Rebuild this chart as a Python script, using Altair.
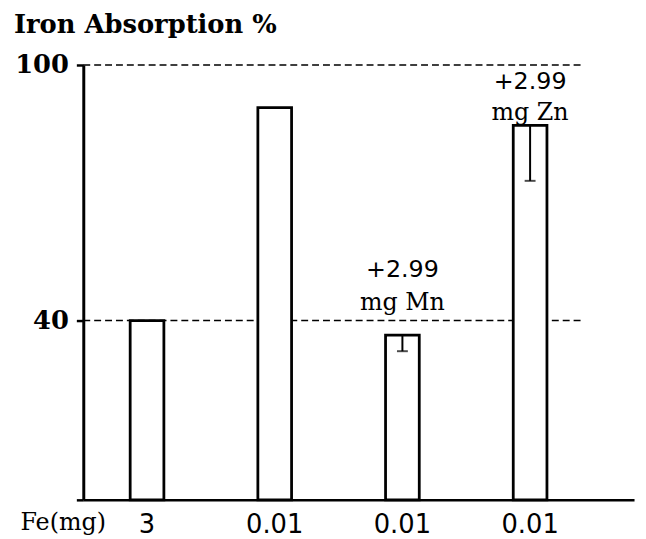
import altair as alt
import pandas as pd

# ---- data ----
fe_labels = ["3", "0.01", "0.01", "0.01"]
absorption = [40, 90, 36.6, 85.8]
err_low = [None, None, 32.8, 72.8]
ann_bar = [2, 3]
ann_top = ["+2.99", "+2.99"]
ann_bottom = ["mg Mn", "mg Zn"]
ref_lines = [100, 40]
y_ticks = [40, 100]

BASE = -2.1  # value at the drawn baseline

# ---- styling constants ----
SERIF = "DejaVu Serif"
SANS = "DejaVu Sans"
ann_dy = {"mg Mn": (-59, -25), "mg Zn": (-37, -6)}

df = pd.DataFrame({"pos": list(range(len(fe_labels))), "absorption": absorption, "low": err_low})
label_expr = "[" + ",".join("'%s'" % l for l in fe_labels) + "][datum.value]"

xscale = alt.Scale(paddingInner=0.736, paddingOuter=0.5246, align=0.35)
yscale = alt.Scale(domain=[BASE, 100], nice=False, zero=False)

x_enc = alt.X(
    "pos:O",
    scale=xscale,
    axis=alt.Axis(
        labelExpr=label_expr, labelAngle=0, ticks=False,
        domainWidth=2.5, domainColor="black",
        labelFont=SANS, labelFontSize=26, labelColor="black", labelPadding=12,
        title="Fe(mg)", titleFont=SERIF, titleFontSize=24, titleFontWeight="normal",
        titleColor="black", titleX=-64, titleY=30, titleAlign="left",
        titleBaseline="alphabetic", titleAngle=0,
    ),
)

y_enc = alt.Y(
    "absorption:Q",
    scale=yscale,
    axis=alt.Axis(
        values=[BASE] + y_ticks, format="d",
        labelExpr="datum.value < 0 ? '' : datum.label",
        title=None, grid=False,
        domainWidth=3, domainColor="black",
        tickWidth=2.5, tickSize=7, tickColor="black",
        labelFont=SERIF, labelFontSize=26, labelFontWeight="bold",
        labelColor="black", labelPadding=8,
    ),
)

base = alt.Chart(df)

refs = alt.Chart(pd.DataFrame({"v": ref_lines})).mark_rule(
    strokeDash=[7, 4], strokeWidth=1.5, color="black"
).encode(
    y=alt.Y("v:Q", scale=yscale),
    x=alt.value(0), x2=alt.value(504),
)

bars = base.mark_bar(fill="white", stroke="black", strokeWidth=2.8).encode(
    x=x_enc, y=y_enc, y2=alt.datum(BASE)
)

err = base.transform_filter("isValid(datum.low)").mark_rule(
    strokeWidth=2, color="black"
).encode(x=alt.X("pos:O"), y="absorption:Q", y2="low:Q")

caps = base.transform_filter("isValid(datum.low)").mark_tick(
    size=11, thickness=2, color="black"
).encode(x=alt.X("pos:O"), y="low:Q")

texts = []
for b, t1, t2 in zip(ann_bar, ann_top, ann_bottom):
    row = df[df["pos"] == b]
    d1, d2 = ann_dy[t2]
    texts.append(alt.Chart(row.assign(t=t1)).mark_text(
        font=SANS, fontSize=24, baseline="alphabetic", dy=d1, color="black"
    ).encode(x="pos:O", y="absorption:Q", text="t:N"))
    texts.append(alt.Chart(row.assign(t=t2)).mark_text(
        font=SERIF, fontSize=24, baseline="alphabetic", dy=d2, color="black"
    ).encode(x="pos:O", y="absorption:Q", text="t:N"))

chart = alt.layer(refs, bars, err, caps, *texts).properties(
    width=556, height=439,
    title=alt.TitleParams(
        "Iron Absorption %", anchor="start", dx=-70, frame="group",
        font=SERIF, fontSize=26, fontWeight="bold", color="black",
        offset=14,
    ),
    padding={"left": 76, "top": 55, "right": 4, "bottom": 37},
    autosize="none",
).configure_view(stroke=None)

chart.save("out.html", embed_options={"renderer": "svg", "actions": False})
